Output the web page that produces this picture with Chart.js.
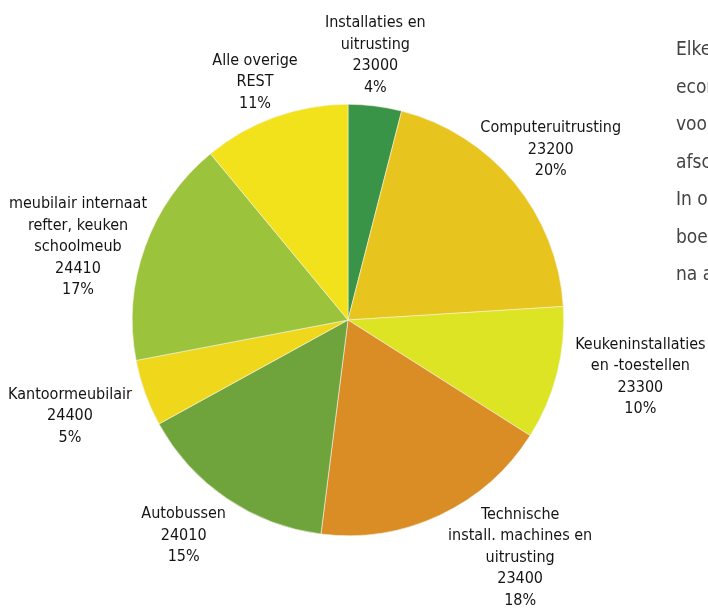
<!DOCTYPE html>
<html>
<head>
<meta charset="utf-8">
<script src="https://cdn.jsdelivr.net/npm/chart.js@4.4.0/dist/chart.umd.min.js"></script>
<style>
  html, body { margin: 0; padding: 0; background: #fff; overflow: hidden; }
  #wrap { position: relative; width: 708px; height: 608px; }
  #side {
    position: absolute; left: 676px; top: 30px; width: 300px;
    font-family: "Liberation Sans Narrow", "DejaVu Sans Condensed", sans-serif;
    font-size: 19px; line-height: 37.5px; color: #444; white-space: nowrap;
  }
</style>
</head>
<body>
<div id="wrap">
  <canvas id="myChart" width="708" height="608"></canvas>
  <div id="side">
    Elke investering wordt<br>
    economisch verspreid<br>
    voor de duur van de<br>
    afschrijving.<br>
    In onze<br>
    boekhouding komt dit<br>
    na aankoop
  </div>
</div>
<script>
// slice names (line breaks = label lines)
const categories = [
  ["Installaties en", "uitrusting"],
  ["Computeruitrusting"],
  ["Keukeninstallaties", "en -toestellen"],
  ["Technische", "install. machines en", "uitrusting"],
  ["Autobussen"],
  ["Kantoormeubilair"],
  ["meubilair internaat", "refter, keuken", "schoolmeub"],
  ["Alle overige", "REST"],
];
const codes = ["23000", "23200", "23300", "23400", "24010", "24400", "24410", ""];
const percentages = [4, 20, 10, 18, 15, 5, 17, 11];
const colors = [
  "#3a9447", "#e8c41f", "#dce423", "#d98d24",
  "#6fa43d", "#efd81c", "#9bc43c", "#f2e21b",
];

// label nudges from the radial point (pixels)
const nudges = [[-6, -1], [-2, -1], [35, -9], [59, -3], [-15, -4], [-28, 6], [-20, 17], [-3, 12]];

const labelPlugin = {
  id: "outerLabels",
  afterDraw(chart) {
    const c = chart.ctx;
    const meta = chart.getDatasetMeta(0);
    c.save();
    c.font = '16px "Liberation Sans Narrow", "DejaVu Sans Condensed", sans-serif';
    c.fillStyle = "#141414";
    c.textAlign = "center";
    c.textBaseline = "middle";
    meta.data.forEach((arc, i) => {
      const p = arc.getProps(["x", "y", "startAngle", "endAngle", "outerRadius"], true);
      const mid = (p.startAngle + p.endAngle) / 2;
      const r = p.outerRadius + 50;
      const cx = p.x + Math.cos(mid) * r + nudges[i][0];
      const cy = p.y + Math.sin(mid) * r + nudges[i][1];
      const lines = [...categories[i]];
      if (codes[i]) lines.push(codes[i]);
      lines.push(percentages[i] + "%");
      const lh = 21.5;
      lines.forEach((t, j) => {
        c.fillText(t, cx, cy + (j - (lines.length - 1) / 2) * lh);
      });
    });
    c.restore();
  },
};

const ctx = document.getElementById("myChart");
const myChart = new Chart(ctx, {
  type: "pie",
  data: {
    labels: categories.map((l) => l.join(" ")),
    datasets: [
      {
        data: percentages,
        backgroundColor: colors,
        borderColor: "#f6f2e0",
        borderWidth: 0.6,
      },
    ],
  },
  options: {
    responsive: false,
    animation: false,
    layout: { padding: { left: 132, right: 144, top: 104, bottom: 72 } },
    plugins: {
      legend: { display: false },
      tooltip: { enabled: false },
    },
  },
  plugins: [labelPlugin],
});
</script>
</body>
</html>
